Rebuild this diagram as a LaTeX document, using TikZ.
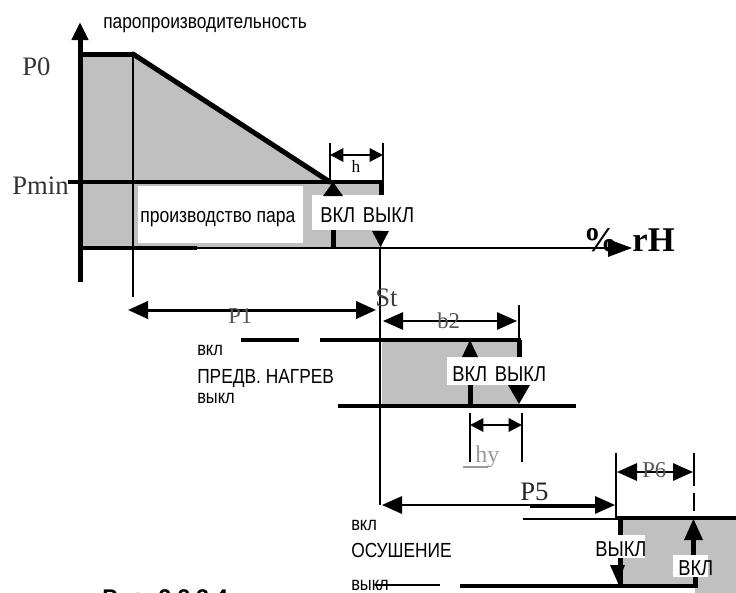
\documentclass[tikz,border=0pt]{standalone}
\usepackage{fontspec}
\setmainfont{Liberation Serif}
\newfontfamily\nsans[FakeStretch=0.85]{Liberation Sans}
\newfontfamily\capsans{Liberation Sans}
\usetikzlibrary{arrows.meta}
\definecolor{fillgray}{HTML}{C0C0C0}
\definecolor{labelgray}{HTML}{555555}
\definecolor{lightgray}{HTML}{9A9A9A}

\tikzset{
  lnthin/.style={line width=1.1pt},
  lnmed/.style={line width=1.6pt},
  lnlevel/.style={line width=3pt},
  lnheavy/.style={line width=3.75pt},
  bigdim/.style={arrows={Triangle[length=15pt,width=13pt]-Triangle[length=15pt,width=13pt]}},
  smalldim/.style={line width=1.5pt, arrows={Triangle[length=10pt,width=10pt]-Triangle[length=10pt,width=10pt]}},
  sanslbl/.style={font=\nsans\fontsize{14.5}{16}\selectfont, inner sep=0pt, anchor=base west},
  bigsans/.style={font=\nsans\fontsize{15.3}{17}\selectfont, inner sep=0pt, anchor=base west},
  switchlbl/.style={font=\nsans\fontsize{16.2}{18}\selectfont, inner sep=0pt, anchor=base west},
  seriflbl/.style={font=\fontsize{20}{22}\selectfont, inner sep=0pt, anchor=base west},
  dimlbl/.style={font=\fontsize{17}{19}\selectfont, inner sep=0pt, anchor=base west, text=labelgray},
}

\begin{document}
\begin{tikzpicture}[x=0.75pt,y=-0.75pt]
\useasboundingbox (0,0) rectangle (736,593);
\clip (0,0) rectangle (736,593);

% ---------- steam production area ----------
\fill[fillgray] (80,54) -- (133,54) -- (330,182) -- (382,182) -- (382,248) -- (80,248) -- cycle;
\fill[white] (138,186) rectangle (303,243);
\fill[white] (312,195) rectangle (412,230);

\draw[lnthin] (133,54) -- (133,297);
\draw[lnheavy, -{Triangle[length=13.5pt,width=12pt]}] (80,282) -- (80,22);
\draw[lnheavy] (78,54) -- (133,54);
\draw[lnheavy, line cap=round] (133,54) -- (330,182);
\draw[lnlevel] (68,182) -- (384,182);
\draw[lnheavy] (381,182) -- (381,195);
\draw[lnmed, -{Triangle[length=18pt,width=13pt]}] (78,248) -- (632,248);
\draw[lnlevel] (78,248) -- (197,248);

% switch markers (humidifier)
\fill (323,196) -- (343,196) -- (333,182) -- cycle;
\draw[lnheavy] (333,230) -- (333,248);
\fill (372,231) -- (389,231) -- (380.5,247) -- cycle;

% St vertical
\draw[lnthin] (380,248) -- (380,505);

% h dimension
\draw[lnthin] (330,143) -- (330,182);
\draw[lnthin] (383,143) -- (383,182);
\draw[smalldim] (330,155) -- (383,155);

% P1 and b2 dimensions
\draw[line width=2.25pt, bigdim] (128,310) -- (376,310);
\draw[line width=1.3pt, bigdim] (383,321) -- (517,321);
\draw[lnthin] (519,305) -- (519,340);

% ---------- preheating ----------
\fill[fillgray] (382,340) rectangle (518,406);
\fill[white] (447,357) rectangle (545,385);
\draw[lnlevel] (241,340) -- (299,340);
\draw[lnlevel] (320,340) -- (521,340);
\draw[lnlevel] (338,406) -- (576,406);
\draw[lnthin] (380,340) -- (380,406);
\draw[lnheavy] (519,340) -- (519,357);
\fill (462,357) -- (478,357) -- (470,340) -- cycle;
\draw[lnheavy] (470,385) -- (470,406);
\fill (508,385) -- (530,385) -- (519,404) -- cycle;

% hy dimension
\draw[lnthin] (470,413) -- (470,462);
\draw[lnthin] (522,413) -- (522,462);
\draw[smalldim] (470,425) -- (522,425);
\draw[lightgray, line width=1.1pt] (463,467) -- (488,467);

% P5 and P6 dimensions
\draw[lnthin] (616,453) -- (616,518);
\draw[lnthin] (694,453) -- (694,486);
\draw[lnmed] (694,493) -- (694,511);
\draw[lnmed, bigdim] (617,472) -- (693,472);
\draw[lnmed, bigdim] (382,505) -- (615,505);
\draw[lnlevel] (530,506) -- (598,506);

% ---------- dehumidification ----------
\fill[fillgray] (619,518) -- (736,518) -- (736,593) -- (695,593) -- (695,586) -- (619,586) -- cycle;
\fill[white] (593,535) rectangle (645,558);
\fill[white] (673,555) rectangle (708,577);
\draw[lnthin] (523,519) -- (619,519);
\draw[lnlevel] (617,518) -- (736,518);
\draw[lnheavy] (620,518) -- (620,535);
\draw[lnheavy] (620,558) -- (620,586);
\fill (610,565) -- (625,565) -- (618,583) -- cycle;
\draw[lnlevel] (460,586) -- (697,586);
\draw[lnheavy] (695,577) -- (695,588);
\fill (684,540) -- (703,540) -- (693.5,519) -- cycle;
\draw[lnheavy] (693.5,540) -- (693.5,555);
\draw[line width=1.5pt] (375,585) -- (440,585);

% ---------- labels ----------
\node[sanslbl, font=\nsans\fontsize{15.3}{17}\selectfont] (ylab) at (103,28) {паропроизводительность};
\node[seriflbl, text=black!80] (p0) at (22,75) {P0};
\node[seriflbl, text=black!80] (pmin) at (12,194) {Pmin};
\node[sanslbl, font=\nsans\fontsize{15.5}{17}\selectfont] (steam) at (140,222) {производство пара};
\node[switchlbl] (sw1) at (320,222) {ВКЛ\hspace{0.35em}ВЫКЛ};
\node[font=\bfseries\fontsize{26}{28}\selectfont, inner sep=0pt, anchor=base west] (rh) at (583,251) {\%\hspace{0.42em}rH};
\node[font=\fontsize{13}{15}\selectfont, inner sep=0pt, anchor=base] (hlab) at (356,172) {h};
\node[seriflbl, text=black!75] (st) at (375,306) {St};
\node[dimlbl] (p1) at (228,323) {P1};
\node[dimlbl] (b2) at (437,328) {b2};

\node[sanslbl] (ph1) at (197,355) {вкл};
\node[bigsans] (ph2) at (197,383) {ПРЕДВ. НАГРЕВ};
\node[sanslbl] (ph3) at (197,403) {выкл};
\node[switchlbl] (sw2) at (452,381) {ВКЛ\hspace{0.35em}ВЫКЛ};

\node[dimlbl, text=lightgray, font=\fontsize{18}{20}\selectfont] (hy) at (475,462) {hy};
\node[seriflbl, text=black!85] (p5) at (520,500) {P5};
\node[dimlbl] (p6) at (642,477) {P6};

\node[sanslbl] (dh1) at (351,530) {вкл};
\node[bigsans] (dh2) at (351,557) {ОСУШЕНИЕ};
\node[sanslbl] (dh3) at (351,590) {выкл};
\node[switchlbl] (sw3) at (595,556) {ВЫКЛ};
\node[switchlbl] (sw4) at (678,575) {ВКЛ};

\node[font=\capsans\bfseries\fontsize{17}{19}\selectfont, inner sep=0pt, anchor=base west] (cap) at (102,605) {Рис. 2.2.3.4};
\end{tikzpicture}
\end{document}
